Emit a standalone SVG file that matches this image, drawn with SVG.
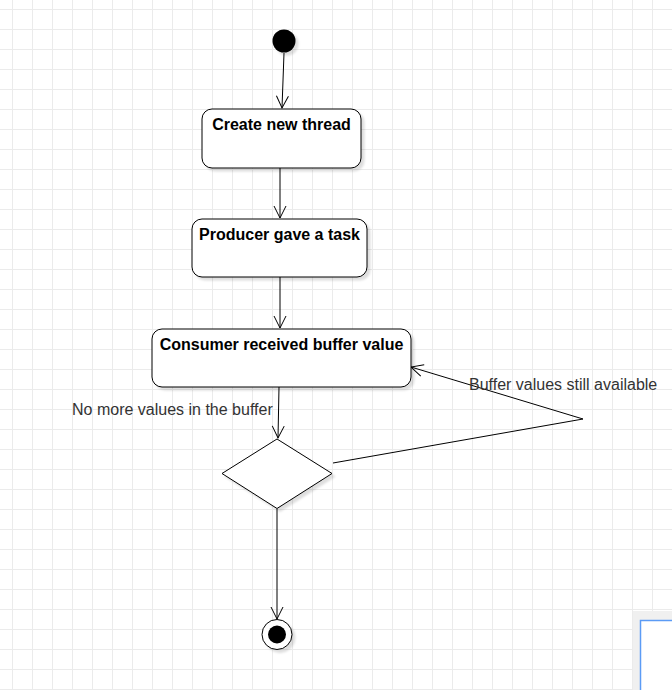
<svg xmlns="http://www.w3.org/2000/svg" width="672" height="690" viewBox="0 0 672 690">
<defs>
<pattern id="grid" x="12" y="9" width="20" height="20" patternUnits="userSpaceOnUse">
<path d="M0.5,0 V20 M0,0.5 H20" fill="none" stroke="#ebebeb" stroke-width="1"/>
</pattern>
<filter id="sh" x="-20%" y="-20%" width="150%" height="150%">
<feDropShadow dx="3" dy="3" stdDeviation="1.2" flood-color="#000" flood-opacity="0.13"/>
</filter>
<marker id="arr" markerUnits="userSpaceOnUse" markerWidth="14" markerHeight="14" refX="12" refY="6" orient="auto" overflow="visible">
<path d="M0,0 L12,6 L0,12" fill="none" stroke="#000" stroke-width="1"/>
</marker>
</defs>
<style>
.box{fill:#fff;stroke:#000;stroke-width:1;filter:url(#sh)}
.lbl{font-family:"Liberation Sans",Arial,sans-serif;font-size:16px;font-weight:bold;fill:#000;text-anchor:middle}
.elbl{font-family:"Liberation Sans",Arial,sans-serif;font-size:16px;fill:#333}
.edge{fill:none;stroke:#000;stroke-width:1;marker-end:url(#arr)}
</style>
<rect width="672" height="690" fill="#fff"/>
<rect width="672" height="690" fill="url(#grid)"/>

<g id="connectors">
<path class="edge" d="M284,53 L282,108"/>
<path class="edge" d="M280,168 L280,218"/>
<path class="edge" d="M280,277 L280,328"/>
<path class="edge" d="M279,387 L278,438"/>
<path class="edge" d="M333,463 L583,419 L411,367"/>
<path class="edge" d="M277,509 L277,619"/>
<text class="elbl" x="72" y="415">No more values in the buffer</text>
<text class="elbl" x="469" y="390">Buffer values still available</text>
</g>

<g id="start">
<circle cx="284" cy="41" r="11.5" fill="#000" filter="url(#sh)"/>
</g>

<g id="create">
<rect class="box" x="202" y="109" width="159" height="59" rx="10"/>
<text class="lbl" x="281.5" y="130">Create new thread</text>
</g>

<g id="producer">
<rect class="box" x="192" y="219" width="175" height="58" rx="10"/>
<text class="lbl" x="279.5" y="240">Producer gave a task</text>
</g>

<g id="consumer">
<rect class="box" x="152" y="329" width="259" height="58" rx="10"/>
<text class="lbl" x="281.5" y="350">Consumer received buffer value</text>
</g>

<g id="decision">
<path class="box" d="M222,473.5 L277,439 L332,473.5 L277,508.5 Z"/>
</g>

<g id="end">
<circle cx="277" cy="634.5" r="15" fill="#fff" stroke="#000" stroke-width="1" filter="url(#sh)"/>
<circle cx="277" cy="634.5" r="9" fill="#000"/>
</g>

<g id="panel">
<rect x="633" y="611" width="60" height="90" fill="#f0f0f0" filter="url(#sh)"/>
<rect x="640.5" y="620.5" width="50" height="80" fill="#fff" stroke="#5b9bf5" stroke-width="1.5"/>
</g>
</svg>
